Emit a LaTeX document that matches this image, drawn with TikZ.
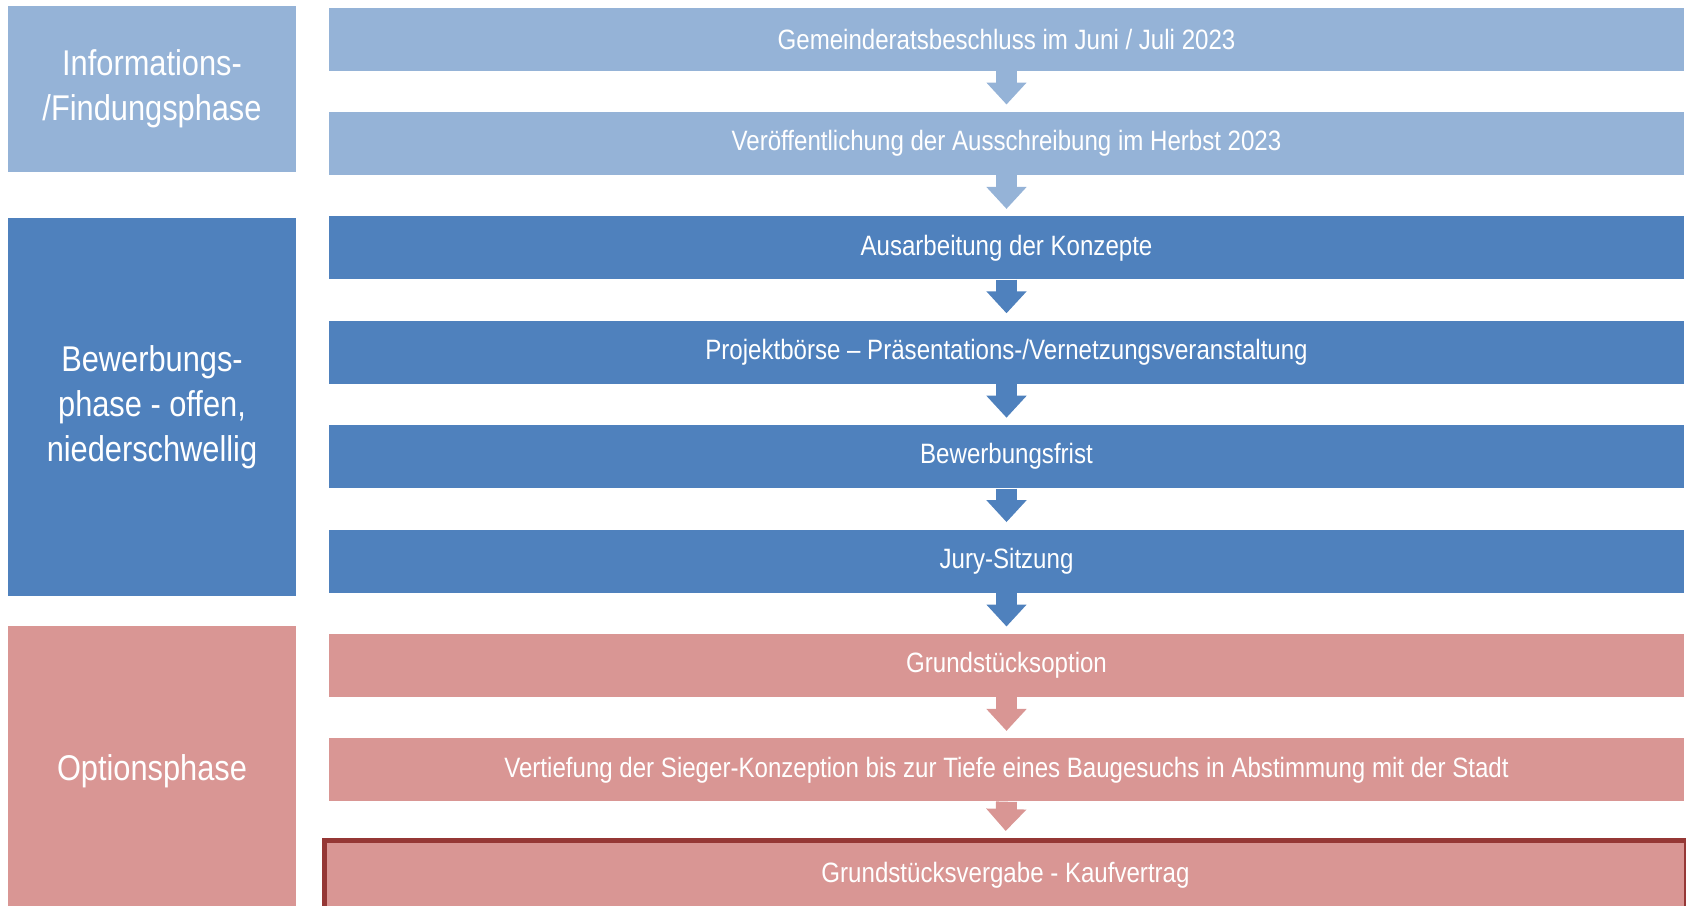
\documentclass[tikz,border=0pt]{standalone}
\usepackage{fontspec}
\setmainfont{Liberation Sans}[FakeStretch=0.86]
\usetikzlibrary{arrows.meta}
\definecolor{lightblue}{HTML}{95B3D7}
\definecolor{midblue}{HTML}{4F81BD}
\definecolor{rose}{HTML}{D99694}
\definecolor{darkred}{HTML}{953735}

\begin{document}
\begin{tikzpicture}[x=0.5pt, y=-0.5pt,
  phase/.style={fill=#1, text=white, inner sep=0pt, minimum width=144pt, align=center,
    font=\fontsize{17.9}{22.5}\selectfont},
  stepbar/.style={fill=#1, text=white, inner sep=0pt, minimum width=677.5pt, minimum height=31.5pt,
    font=\fontsize{14}{16}\selectfont},
  flow/.style={draw=#1, line width=10.5pt, -{Triangle[width=19.5pt,length=11pt]}, shorten >=3.5pt}]
  \clip (0,0) rectangle (1686,905);
  % phases (left column)
  \node[phase=lightblue, minimum height=83pt] (info) at (152,89) {Informations-\\/Findungsphase};
  \node[phase=midblue, minimum height=189pt] (bewerb) at (152,407) {Bewerbungs-\\phase - offen,\\niederschwellig};
  \node[phase=rose, minimum height=145pt] (option) at (152,771) {Optionsphase};
  % steps (right column), 104.4px apart
  \node[stepbar=lightblue] (s1) at (1006.5,39) {Gemeinderatsbeschluss im Juni / Juli 2023};
  \node[stepbar=lightblue] (s2) at (1006.5,143.4) {Veröffentlichung der Ausschreibung im Herbst 2023};
  \node[stepbar=midblue] (s3) at (1006.5,247.8) {Ausarbeitung der Konzepte};
  \node[stepbar=midblue] (s4) at (1006.5,352.2) {Projektbörse – Präsentations-/Vernetzungsveranstaltung};
  \node[stepbar=midblue] (s5) at (1006.5,456.6) {Bewerbungsfrist};
  \node[stepbar=midblue] (s6) at (1006.5,561) {Jury-Sitzung};
  \node[stepbar=rose] (s7) at (1006.5,665.4) {Grundstücksoption};
  \node[stepbar=rose] (s8) at (1006.5,769.8) {Vertiefung der Sieger-Konzeption bis zur Tiefe eines Baugesuchs in Abstimmung mit der Stadt};
  \node[stepbar=rose, draw=darkred, line width=2.5pt, minimum width=681pt, minimum height=35pt] (s9) at (1005.5,875.5) {Grundstücksvergabe - Kaufvertrag};
  % block arrows between the steps
  \draw[flow=lightblue] (s1.south) -- (s2.north);
  \draw[flow=lightblue] (s2.south) -- (s3.north);
  \draw[flow=midblue] (s3.south) -- (s4.north);
  \draw[flow=midblue] (s4.south) -- (s5.north);
  \draw[flow=midblue] (s5.south) -- (s6.north);
  \draw[flow=midblue] (s6.south) -- (s7.north);
  \draw[flow=rose] (s7.south) -- (s8.north);
  \draw[flow=rose] (s8.south) -- (s9.north);
\end{tikzpicture}
\end{document}
